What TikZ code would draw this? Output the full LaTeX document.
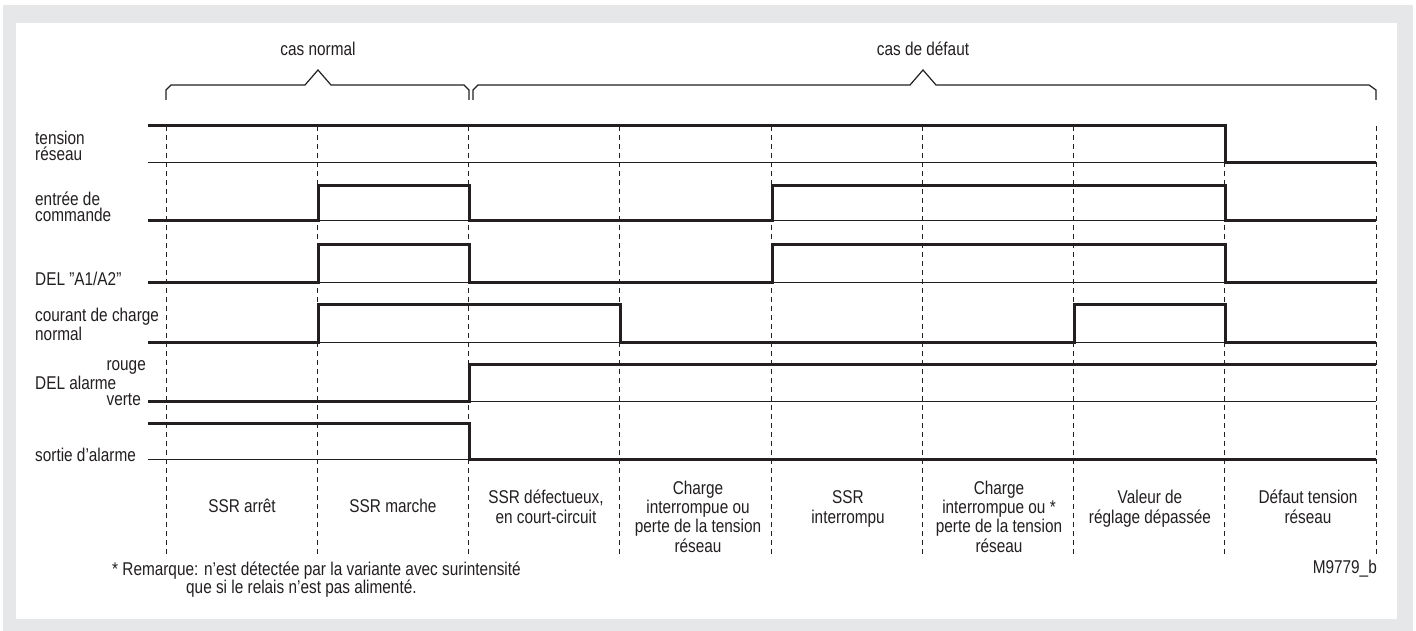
\documentclass[tikz,border=0pt]{standalone}
\usepackage{fontspec}
\setmainfont{Liberation Sans}[FakeStretch=0.83]
\usepackage{xcolor}
\usepackage{tikz}
\usetikzlibrary{positioning}
\definecolor{frame}{HTML}{E6E7E8}
\definecolor{ink}{HTML}{231F20}

\begin{document}
\begin{tikzpicture}
	[
	   x = 1pt, y = -1pt,
	   every node/.style = {inner sep = 0pt, text = ink, font = \fontsize{18.5}{16.5}\selectfont},
	   signal/.style = {draw = ink, line width = 3pt},
	   rail/.style = {draw = ink, line width = 1pt},
	   grid/.style = {draw = ink, line width = 1pt, dash pattern = on 5pt off 4pt},
	   brace/.style = {draw = ink, line width = 1.2pt},
	   row/.style = {anchor = base west, align = left},
	   phase/.style = {anchor = base, align = center, font = \fontsize{18.5}{19.3}\selectfont},
	]
	\useasboundingbox (0,0) rectangle (1416,631);
	\fill[frame] (3,5) rectangle (1413,631);
	\fill[white] (16,23) rectangle (1397,619);

	\node[anchor = base] (normal) at (318,56) {cas normal};
	\node[anchor = base] (defaut) at (923,56) {cas de défaut};
	\draw[brace] (166,100) -- (166,90) -- (171,85) -- (305,85) -- (318,70) -- (331,85)
		-- (464,85) -- (469,90) -- (469,100);
	\draw[brace] (473,100) -- (473,90) -- (478,85) -- (910,85) -- (923,70) -- (936,85)
		-- (1369,85) -- (1376,90) -- (1376,100);

	\foreach \i in {0,...,8}
		\draw[grid] (166+\i*151.25,126) -- (166+\i*151.25,557);

	\foreach \y in {163,221,282,342,401,459}
		\draw[rail] (148,\y) -- (1376,\y);

	\draw[signal] (148,126) -| (1225,163) -- (1376,163);
	\draw[signal] (148,221) -| (318,186) -| (469,221) -| (772,186) -| (1225,221) -- (1376,221);
	\draw[signal] (148,282) -| (318,244) -| (469,282) -| (772,244) -| (1225,282) -- (1376,282);
	\draw[signal] (148,342) -| (318,304) -| (620,342) -| (1074,304) -| (1225,342) -- (1376,342);
	\draw[signal] (148,401) -| (469,364) -- (1376,364);
	\draw[signal] (148,423) -| (469,459) -- (1376,459);

	\node[row] (tension) at (35,161) {tension\\réseau};
	\node[row] (commande) at (35,222) {entrée de\\commande};
	\node[row] (a1a2) at (35,285) {DEL "A1/A2"};
	\node[row] (courant) at (35,340) {courant de charge\\normal};
	\node[row] (alarme) at (35,389) {DEL alarme};
	\node[anchor = base east] (rouge) at (146,370) {rouge};
	\node[anchor = base east] (verte) at (141,405) {verte};
	\node[row] (sortie) at (35,461) {sortie d’alarme};

	\node[phase] (arret) at (242,512) {SSR arrêt};
	\node[phase] (marche) at (393,512) {SSR marche};
	\node[phase] (court) at (546,523) {SSR défectueux,\\en court-circuit};
	\node[phase] (perte) at (698,552) {Charge\\interrompue ou\\perte de la tension\\réseau};
	\node[phase] (interrompu) at (848,523) {SSR\\interrompu};
	\node[phase] (perteb) at (999,552) {Charge\\interrompue ou *\\perte de la tension\\réseau};
	\node[phase] (reglage) at (1150,523) {Valeur de\\réglage dépassée};
	\node[phase] (reseau) at (1308,523) {Défaut tension\\réseau};

	\node[row] (note) at (112,575) {* Remarque: n’est détectée par la variante avec surintensité};
	\node[row] (noteb) at (186,593) {que si le relais n’est pas alimenté.};
	\node[anchor = base east] (ref) at (1377,573) {M9779\_b};
\end{tikzpicture}
\end{document}
